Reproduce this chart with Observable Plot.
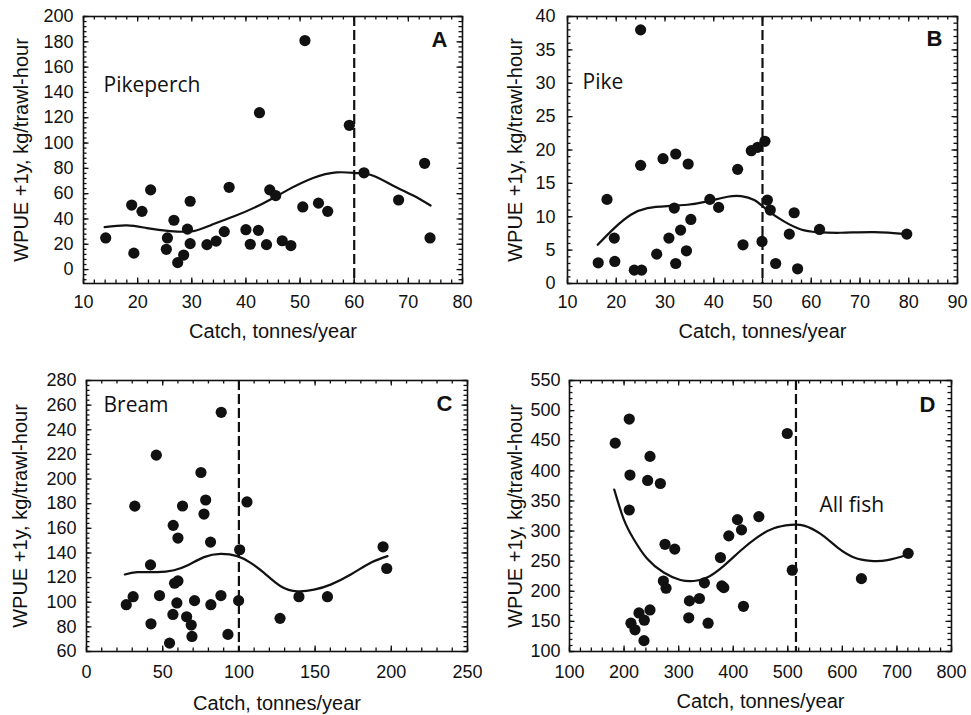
<!DOCTYPE html>
<html>
<head>
<meta charset="utf-8">
<script src="https://cdn.jsdelivr.net/npm/d3@7"></script>
<script src="https://cdn.jsdelivr.net/npm/@observablehq/plot@0.6"></script>
<style>
  html, body { margin: 0; padding: 0; background: #fff; }
  #fig { position: relative; width: 971px; height: 715px; background: #fff; overflow: hidden; }
  .cell { position: absolute; }
</style>
</head>
<body>
<div id="fig"></div>
<script>
// ---------- Panel A: Pikeperch ----------
const aCatch = [14.1,19.3,18.9,20.8,22.4,25.3,25.5,26.7,27.4,28.5,29.2,29.7,29.7,32.8,34.5,36.0,36.9,40.0,40.8,42.3,42.5,43.8,44.4,45.5,46.7,48.3,50.5,50.9,53.4,55.1,59.1,61.8,68.2,73.0,74.0];
const aWpue  = [25,13,51,46,63,16,25,39,5.5,11.5,32,20.5,54,19.7,22.5,30,65,31.5,20,31,124,19.7,63,58.5,22.8,19,49.5,181,52.5,46,114,76.5,55,84,25];
const aFitX  = [13.9,18,21.7,26,30.3,33.4,37.7,42.6,47.5,52.4,56.7,60.4,63.5,67.2,70.9,74.1];
const aFitY  = [33.6,34.9,32.8,30.4,30.4,34.9,41.9,51.1,62.4,72.3,76.8,76.3,74.2,66.3,58.5,50.6];
const aXTicks = [10,20,30,40,50,60,70,80];
const aYTicks = [0,20,40,60,80,100,120,140,160,180,200];

// ---------- Panel B: Pike ----------
const bCatch = [16.3,18.1,19.6,19.7,23.7,25.2,25.0,25.0,28.3,29.6,30.8,31.9,32.2,32.2,33.2,34.4,34.75,35.3,39.2,41.0,44.9,46.0,47.7,49.0,50.5,49.9,51.0,51.6,52.7,55.5,56.5,57.2,61.7,79.6];
const bWpue  = [3.1,12.6,6.8,3.3,2.0,2.0,38.0,17.7,4.4,18.7,6.8,11.3,19.4,3.0,8.0,4.9,17.9,9.6,12.6,11.4,17.1,5.8,19.9,20.4,21.3,6.3,12.5,11.0,3.0,7.4,10.6,2.2,8.1,7.4];
const bFitX  = [16.2,19.6,23,26.4,30.5,34.6,38.7,42.8,45.6,48.3,51,54.4,57.9,61.3,66.1,72.9,79.6];
const bFitY  = [5.8,8.3,10.3,11.3,11.6,11.8,12.3,13.0,13.1,12.5,11.0,9.3,8.1,7.7,7.6,7.7,7.4];
const bXTicks = [10,20,30,40,50,60,70,80,90];
const bYTicks = [0,5,10,15,20,25,30,35,40];

// ---------- Panel C: Bream ----------
const cCatch = [26.1,30.6,31.7,42.0,42.3,45.8,47.9,54.5,56.9,56.7,57.8,60.0,60.0,59.3,63.0,65.7,68.7,69.2,70.9,75.1,77.1,78.2,81.4,81.6,88.2,88.4,92.8,99.8,100.5,105.3,127.0,139.4,158.1,194.6,197.0];
const cWpue  = [98,104.5,178,130.3,82.5,219.4,105.4,66.8,162.4,90.1,115.4,117.3,152.1,99.4,178.1,88.2,81.5,72.2,101.3,205.3,171.6,183,148.8,98,105.4,254.2,73.9,101.3,142.6,181.4,86.9,104.5,104.5,145,127.4];
const cFitX  = [25.2,33.3,46.4,57.4,66.1,77.1,88,98.9,107.7,116.5,127.4,138.4,149.3,160.2,173.4,186.5,197.5];
const cFitY  = [122.5,124.4,124.4,126,129.8,136.6,139.3,137.4,132,123.8,113,108.9,110.2,114.3,122.5,132,137.4];
const cXTicks = [0,50,100,150,200,250];
const cYTicks = [60,80,100,120,140,160,180,200,220,240,260,280];

// ---------- Panel D: All fish ----------
const dCatch = [183.8,209.5,210.8,209.5,212.6,220,227.3,237.1,236.5,247.5,247.5,243.2,266.5,275,272,276.9,292.8,318.5,319.7,338.1,347.2,354,376.6,379.1,382.7,391.9,407.8,415.2,418.8,447,499,508.2,634.9,720.6];
const dWpue  = [446,486,393,335,147,136,164,152,118,169,424,384,379,278,217,205,270,156,184,188,214,147,256,209,206,292,319,302,175,324,462,235,221,263];
const dFitX  = [182,199.1,217.5,242,272.6,303.2,327.7,352.1,382.7,413.3,443.9,474.5,505.1,529.6,560.2,590.8,621.4,652,682.6,719.3];
const dFitY  = [368.8,320.3,286.8,254.5,231.1,218.8,217.1,222.7,242.2,267.3,289.6,304.7,310.3,309.1,295.2,272.9,256.2,250.6,251.7,260.6];
const dXTicks = [100,200,300,400,500,600,700,800];
const dYTicks = [100,150,200,250,300,350,400,450,500,550];

const thresholds = [60, 50, 100, 515];
const speciesNames = ["Pikeperch", "Pike", "Bream", "All fish"];
const panelLetters = ["A", "B", "C", "D"];
const xLabel = "Catch, tonnes/year";
const yLabel = "WPUE +1y, kg/trawl-hour";

const FONT = '"Liberation Sans", Arial, Helvetica, sans-serif';

function zipXY(xs, ys) { return xs.map((x, i) => ({x, y: ys[i]})); }

function stepTicks(domain, origin, step) {
  const k0 = Math.ceil((domain[0] - origin) / step - 1e-9);
  const k1 = Math.floor((domain[1] - origin) / step + 1e-9);
  return d3.range(k0, k1 + 1).map(k => +(origin + k * step).toFixed(6));
}

// short inward ticks on all four sides of the frame
function frameTicks(cfg, fw, fh) {
  const inX = v => v >= cfg.xDomain[0] - 1e-9 && v <= cfg.xDomain[1] + 1e-9;
  const inY = v => v >= cfg.yDomain[0] - 1e-9 && v <= cfg.yDomain[1] + 1e-9;
  const xMinor = stepTicks(cfg.xDomain, cfg.xTicks[0], cfg.xStep);
  const yMinor = stepTicks(cfg.yDomain, cfg.yTicks[0], cfg.yStep);
  const st = {stroke: "#111", strokeWidth: 1.3};
  const L = [];
  for (const [ticks, s] of [[xMinor, 3.5], [cfg.xTicks.filter(inX), 5.5]]) {
    L.push(Plot.tickX(ticks, {x: d => d, insetTop: fh - s, ...st}));
    L.push(Plot.tickX(ticks, {x: d => d, insetBottom: fh - s, ...st}));
  }
  for (const [ticks, s] of [[yMinor, 3.5], [cfg.yTicks.filter(inY), 5.5]]) {
    L.push(Plot.tickY(ticks, {y: d => d, insetRight: fw - s, ...st}));
    L.push(Plot.tickY(ticks, {y: d => d, insetLeft: fw - s, ...st}));
  }
  return L;
}

function panel(cfg) {
  const pts = zipXY(cfg.catch, cfg.wpue);
  const fit = zipXY(cfg.fitX, cfg.fitY);
  const [mT, mR, mB, mL] = cfg.m;
  const fw = cfg.width - mL - mR, fh = cfg.height - mT - mB;
  return Plot.plot({
    width: cfg.width, height: cfg.height,
    marginLeft: mL, marginRight: mR, marginTop: mT, marginBottom: mB,
    style: {fontFamily: FONT, fontSize: "18px", color: "#111", background: "transparent", overflow: "visible"},
    x: {domain: cfg.xDomain},
    y: {domain: cfg.yDomain},
    marks: [
      Plot.ruleX([cfg.threshold], {stroke: "#111", strokeWidth: 2.2, strokeDasharray: "10,4"}),
      Plot.line(fit, {x: "x", y: "y", curve: "natural", stroke: "#111", strokeWidth: 2.2}),
      Plot.dot(pts, {x: "x", y: "y", r: 5.6, fill: "#111", stroke: "none"}),
      ...frameTicks(cfg, fw, fh),
      Plot.frame({stroke: "#111", strokeWidth: 1.6}),
      Plot.axisX({anchor: "bottom", ticks: cfg.xTicks, tickSize: 0, tickPadding: cfg.xPad, label: null, fontSize: 18, fill: "#111"}),
      Plot.axisY({anchor: "left", ticks: cfg.yTicks, tickSize: 0, tickPadding: cfg.yPad, label: null, fontSize: 18, fill: "#111"}),
      Plot.text([xLabel], {text: d => d, frameAnchor: "bottom", dy: cfg.xLabDy, lineAnchor: "top", textAnchor: "middle", fontSize: 20, fill: "#111"}),
      Plot.text([yLabel], {text: d => d, frameAnchor: "left", dx: cfg.yLabDx, rotate: -90, lineAnchor: "middle", textAnchor: "middle", fontSize: 20, fill: "#111"}),
      Plot.text([cfg.name], {text: d => d, frameAnchor: "top-left", dx: cfg.nameD[0], dy: cfg.nameD[1], lineAnchor: "middle", textAnchor: "start", fontSize: 21, fontFamily: '"Open Sans", "Noto Sans", sans-serif', fill: "#111"}),
      Plot.text([cfg.letter], {text: d => d, frameAnchor: "top-right", dx: cfg.letterD[0], dy: cfg.letterD[1], lineAnchor: "middle", textAnchor: "end", fontSize: 22, fontWeight: "bold", fill: "#111"})
    ]
  });
}

const cells = [
  {left: 0, top: 0, width: 485, height: 357, m: [16, 23, 74, 83],
   catch: aCatch, wpue: aWpue, fitX: aFitX, fitY: aFitY, xTicks: aXTicks, yTicks: aYTicks,
   xDomain: [10, 80], yDomain: [-11, 200], xStep: 2, yStep: 4,
   threshold: thresholds[0], name: speciesNames[0], letter: panelLetters[0],
   xPad: 12, yPad: 10, xLabDy: 40, yLabDx: -62, nameD: [20, 69], letterD: [-15, 23]},
  {left: 485, top: 0, width: 486, height: 357, m: [16, 14, 74, 82],
   catch: bCatch, wpue: bWpue, fitX: bFitX, fitY: bFitY, xTicks: bXTicks, yTicks: bYTicks,
   xDomain: [10, 90], yDomain: [0, 40], xStep: 2, yStep: 1,
   threshold: thresholds[1], name: speciesNames[1], letter: panelLetters[1],
   xPad: 12, yPad: 12, xLabDy: 40, yLabDx: -52, nameD: [15, 66], letterD: [-15, 22]},
  {left: 0, top: 357, width: 485, height: 358, m: [23, 18, 64, 86],
   catch: cCatch, wpue: cWpue, fitX: cFitX, fitY: cFitY, xTicks: cXTicks, yTicks: cYTicks,
   xDomain: [0, 250], yDomain: [60, 280], xStep: 10, yStep: 4,
   threshold: thresholds[2], name: speciesNames[2], letter: panelLetters[2],
   xPad: 14, yPad: 10, xLabDy: 44, yLabDx: -66, nameD: [17, 25], letterD: [-15, 23]},
  {left: 485, top: 357, width: 486, height: 358, m: [23, 20, 64, 84],
   catch: dCatch, wpue: dWpue, fitX: dFitX, fitY: dFitY, xTicks: dXTicks, yTicks: dYTicks,
   xDomain: [100, 800], yDomain: [100, 550], xStep: 20, yStep: 10,
   threshold: thresholds[3], name: speciesNames[3], letter: panelLetters[3],
   xPad: 14, yPad: 9, xLabDy: 42, yLabDx: -54, nameD: [250, 125], letterD: [-16, 24]}
];

const fig = document.getElementById("fig");
for (const c of cells) {
  const div = document.createElement("div");
  div.className = "cell";
  div.style.left = c.left + "px";
  div.style.top = c.top + "px";
  div.appendChild(panel(c));
  fig.appendChild(div);
}
</script>
</body>
</html>
